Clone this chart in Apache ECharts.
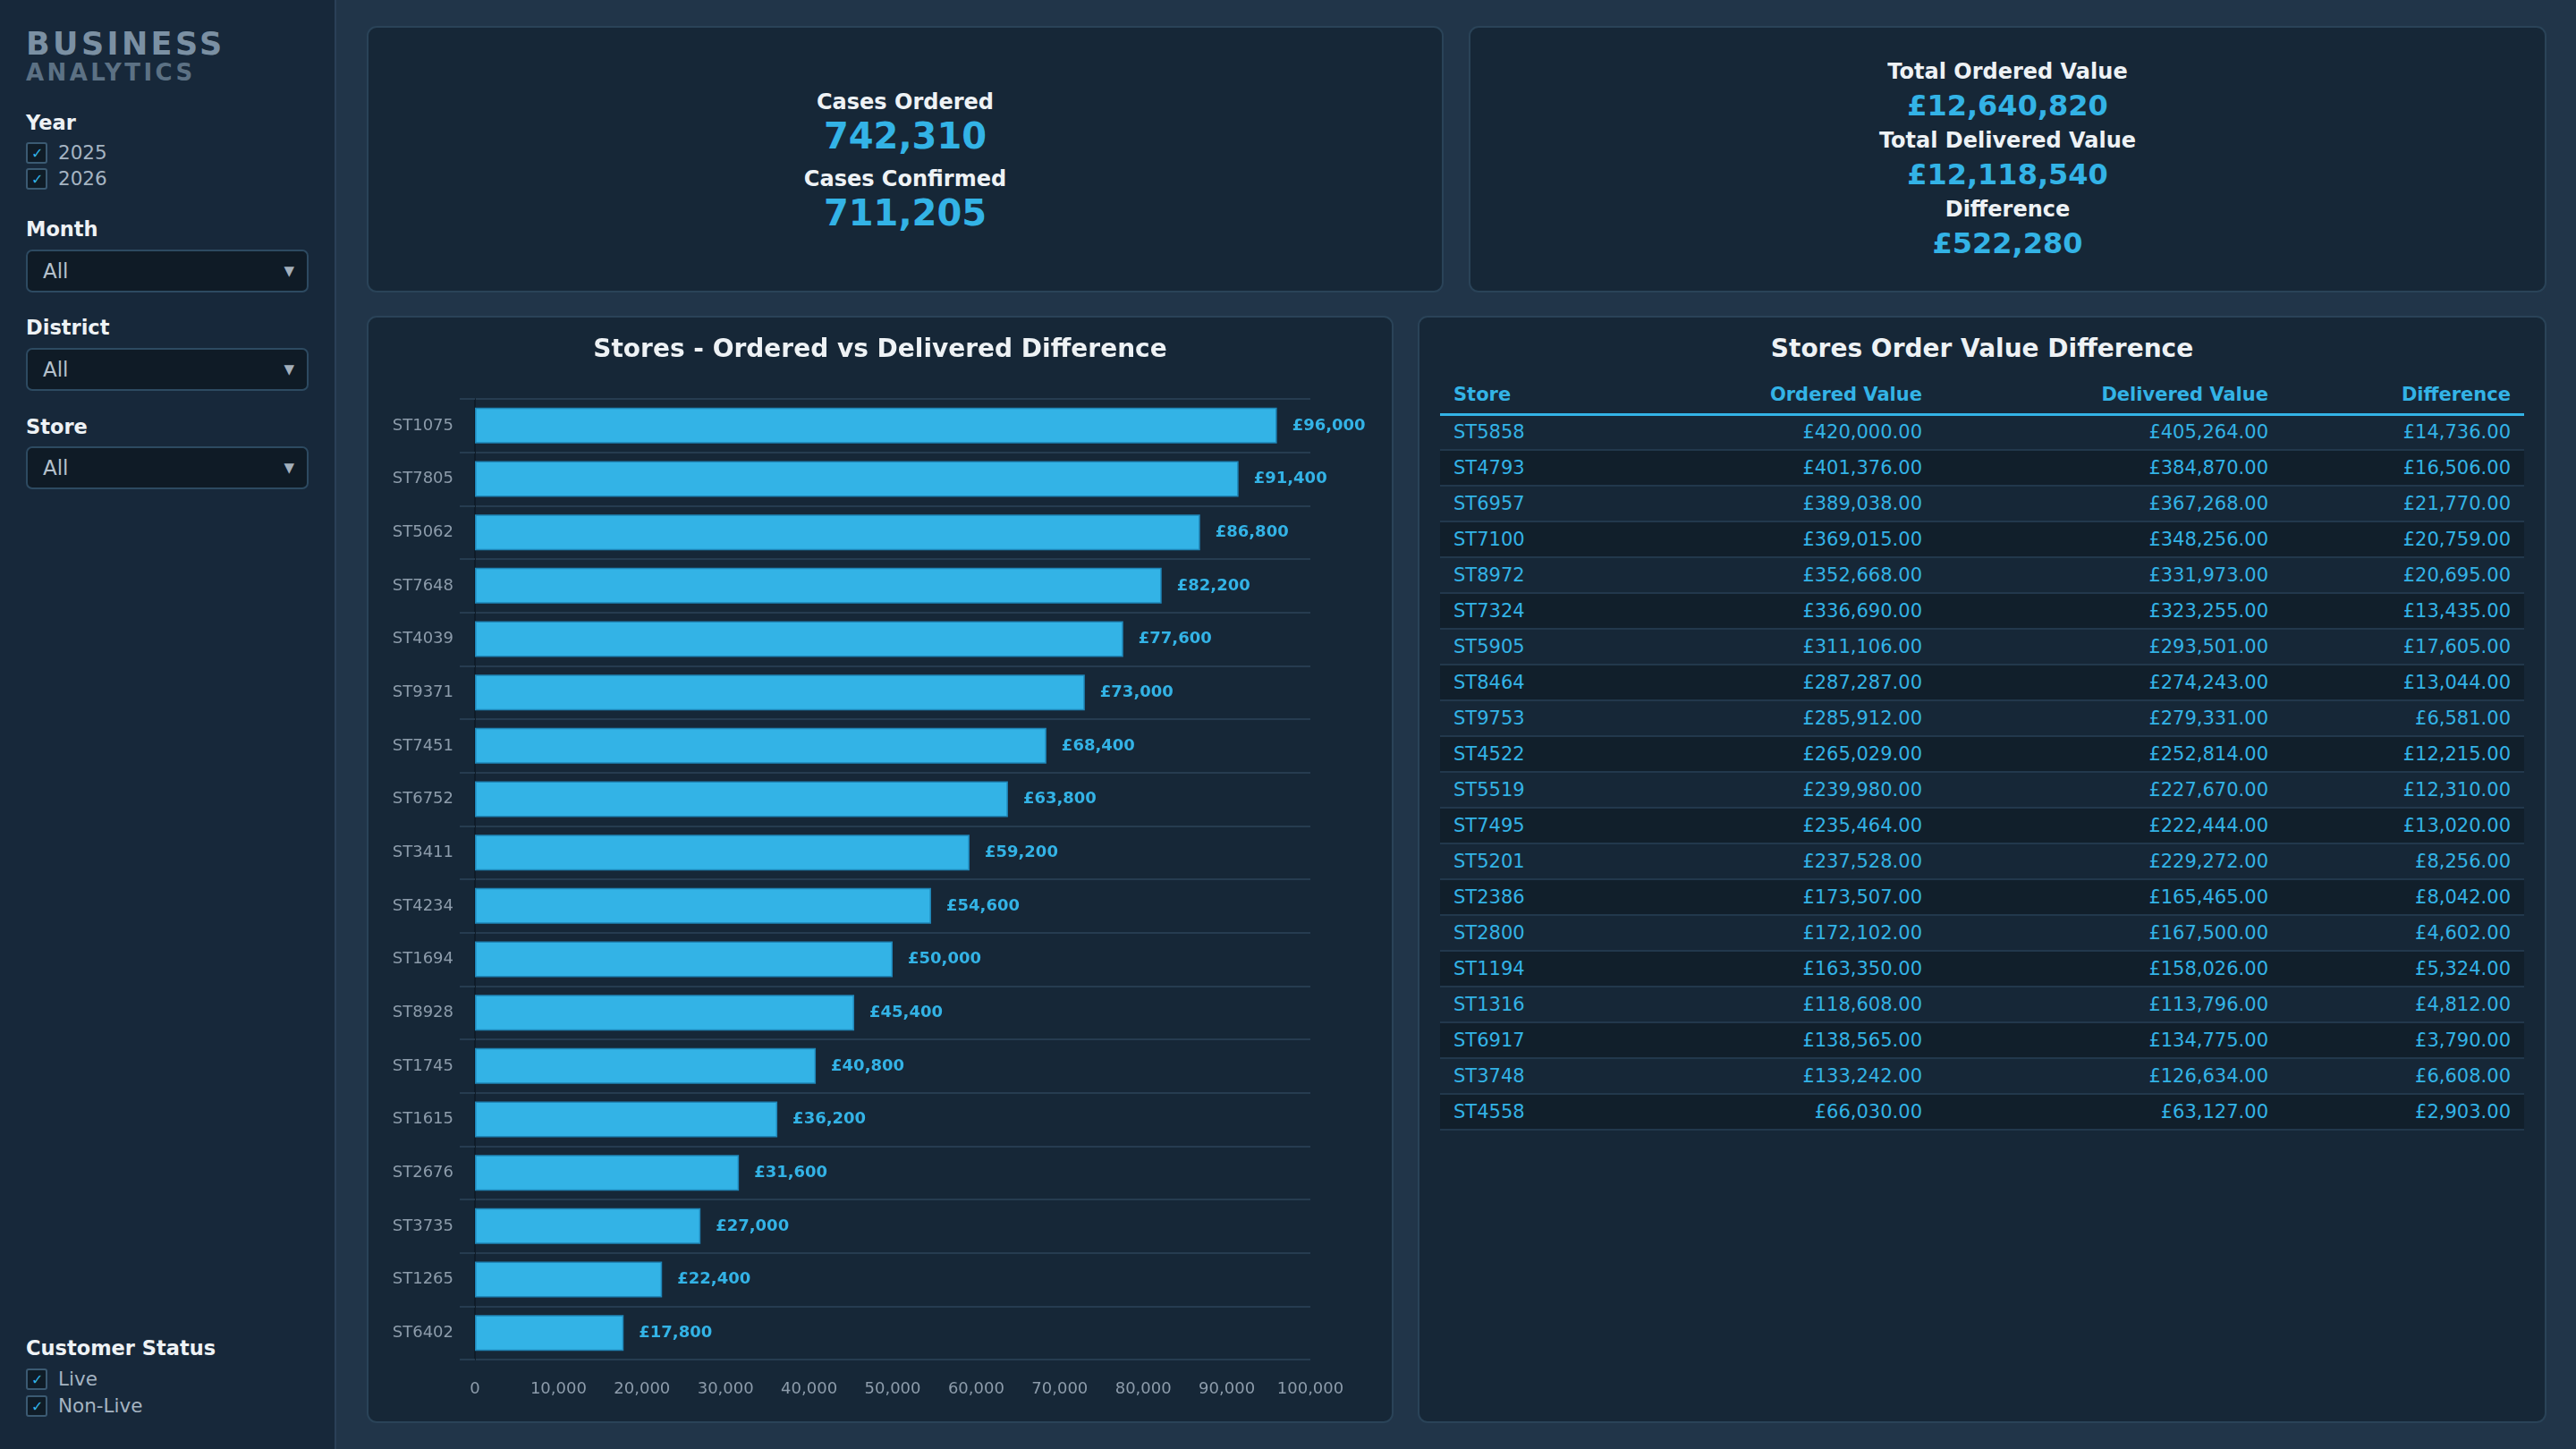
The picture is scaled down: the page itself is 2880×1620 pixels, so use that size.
<!DOCTYPE html>
<html>
<head>
<meta charset="utf-8">
<title>Business Analytics</title>
<script src="https://cdn.jsdelivr.net/npm/echarts@6/dist/echarts.min.js"></script>
<style>
  * { box-sizing: border-box; }
  html, body { margin: 0; padding: 0; }
  body {
    width: 2880px; height: 1620px; overflow: hidden;
    background: #213549;
    font-family: "DejaVu Sans", sans-serif;
    position: relative;
  }
  #sidebar {
    position: absolute; left: 0; top: 0; width: 376px; height: 1620px;
    background: #17283a; border-right: 2px solid #2a4057;
  }
  .brand1 { position: absolute; left: 29px; top: 30px; font-size: 35px; font-weight: bold;
    letter-spacing: 3.4px; color: #7b90a3; line-height: 38px; }
  .brand2 { position: absolute; left: 29px; top: 66px; font-size: 26px; font-weight: bold;
    letter-spacing: 3.4px; color: #5c7184; line-height: 30px; }
  .flabel { position: absolute; left: 29px; font-size: 22.5px; font-weight: bold; color: #eef2f5;
    line-height: 26px; }
  .chk { position: absolute; left: 29px; height: 24px; font-size: 21.5px; color: #a5b4c2; line-height: 24px; }
  .chk .box { display: inline-block; width: 24px; height: 24px; border: 2px solid #3b5a72;
    border-radius: 3px; background: #0f1c27; vertical-align: top; position: relative; margin-right: 12px; }
  .chk .box::after { content: "\2713"; position: absolute; left: 4px; top: -1px; font-size: 16px;
    color: #33b3e6; }
  .sel { position: absolute; left: 29px; width: 316px; height: 48px; border: 2px solid #2d4a61;
    border-radius: 7px; background: #0f1b26; color: #b4c0cb; font-size: 23px; line-height: 44px;
    padding-left: 17px; }
  .sel .arr { position: absolute; right: 14px; top: 0; font-size: 15px; color: #a3b0bc; }
  .card { position: absolute; background: #162737; border: 2px solid #2a4358; border-radius: 11px; }
  .kpi { display: flex; flex-direction: column; align-items: center; justify-content: center; }
  .kl { font-size: 24px; font-weight: bold; color: #eef2f5; }
  .kv { font-weight: bold; color: #33b3e6; }
  #k1 .kl { line-height: 30px; }
  #k1 .kl + .kv + .kl { margin-top: 10px; }
  #k1 .kv { font-size: 40px; line-height: 46px; }
  #k1 { padding-top: 4px; }
  #k2 .kl { line-height: 34px; }
  #k2 .kv { font-size: 32px; line-height: 43px; }
  #chart { position: absolute; left: 0; top: 0; width: 100%; height: 100%; }
  .ttl { position: absolute; left: 0; right: 0; top: 17px; text-align: center; font-size: 28px;
    font-weight: bold; color: #eef2f5; line-height: 36px; }
  table { position: absolute; left: 23px; top: 66px; width: 1212px; border-collapse: collapse;
    table-layout: fixed; font-size: 21px; color: #33b3e6; }
  th { font-weight: bold; height: 42px; border-bottom: 3px solid #33b3e6; padding: 0 15px; }
  td { height: 40px; padding: 0 15px; border-bottom: 2px solid #22384c; }
  tbody tr:nth-child(even) td { background: #111f2b; }
  .l { text-align: left; } .r { text-align: right; }
</style>
</head>
<body>
<div id="sidebar">
  <div class="brand1">BUSINESS</div>
  <div class="brand2">ANALYTICS</div>
  <div class="flabel" style="top:124px">Year</div>
  <div class="chk" style="top:159px"><span class="box"></span>2025</div>
  <div class="chk" style="top:188px"><span class="box"></span>2026</div>
  <div class="flabel" style="top:243px">Month</div>
  <div class="sel" style="top:279px">All<span class="arr">&#9660;</span></div>
  <div class="flabel" style="top:353px">District</div>
  <div class="sel" style="top:389px">All<span class="arr">&#9660;</span></div>
  <div class="flabel" style="top:464px">Store</div>
  <div class="sel" style="top:499px">All<span class="arr">&#9660;</span></div>
  <div class="flabel" style="top:1494px">Customer Status</div>
  <div class="chk" style="top:1530px"><span class="box"></span>Live</div>
  <div class="chk" style="top:1560px"><span class="box"></span>Non-Live</div>
</div>

<div class="card kpi" id="k1" style="left:410px; top:29px; width:1204px; height:298px;"></div>
<div class="card kpi" id="k2" style="left:1642px; top:29px; width:1205px; height:298px;"></div>

<div class="card" style="left:410px; top:353px; width:1148px; height:1238px;">
  <div id="chart"></div>
</div>

<div class="card" style="left:1585px; top:353px; width:1262px; height:1238px;">
  <div class="ttl">Stores Order Value Difference</div>
  <table id="tbl">
    <colgroup><col style="width:200px"><col style="width:354px"><col style="width:387px"><col style="width:271px"></colgroup>
    <thead><tr><th class="l">Store</th><th class="r">Ordered Value</th><th class="r">Delivered Value</th><th class="r">Difference</th></tr></thead>
    <tbody></tbody>
  </table>
</div>

<script type="text/javascript">
// KPI figures
var casesOrdered = 742310;
var casesConfirmed = 711205;
var totalOrdered = 12640820;
var totalDelivered = 12118540;
var totalDifference = 522280;

// bar chart: difference per store
var barStores = ['ST1075', 'ST7805', 'ST5062', 'ST7648', 'ST4039', 'ST9371', 'ST7451', 'ST6752', 'ST3411',
  'ST4234', 'ST1694', 'ST8928', 'ST1745', 'ST1615', 'ST2676', 'ST3735', 'ST1265', 'ST6402'];
var barDiff = [96000, 91400, 86800, 82200, 77600, 73000, 68400, 63800, 59200,
  54600, 50000, 45400, 40800, 36200, 31600, 27000, 22400, 17800];
var xTicks = { min: 0, max: 100000, step: 10000 };

// table
var tblStores = ['ST5858', 'ST4793', 'ST6957', 'ST7100', 'ST8972', 'ST7324', 'ST5905', 'ST8464', 'ST9753', 'ST4522',
  'ST5519', 'ST7495', 'ST5201', 'ST2386', 'ST2800', 'ST1194', 'ST1316', 'ST6917', 'ST3748', 'ST4558'];
var tblOrdered = [420000, 401376, 389038, 369015, 352668, 336690, 311106, 287287, 285912, 265029,
  239980, 235464, 237528, 173507, 172102, 163350, 118608, 138565, 133242, 66030];
var tblDelivered = [405264, 384870, 367268, 348256, 331973, 323255, 293501, 274243, 279331, 252814,
  227670, 222444, 229272, 165465, 167500, 158026, 113796, 134775, 126634, 63127];
var tblDiff = [14736, 16506, 21770, 20759, 20695, 13435, 17605, 13044, 6581, 12215,
  12310, 13020, 8256, 8042, 4602, 5324, 4812, 3790, 6608, 2903];

function fmt(v) { return v.toLocaleString('en-GB'); }
function money2(v) { return '£' + v.toLocaleString('en-GB', { minimumFractionDigits: 2, maximumFractionDigits: 2 }); }

function kpiBlock(id, items) {
  var el = document.getElementById(id);
  items.forEach(function (it) {
    var a = document.createElement('div'); a.className = 'kl'; a.textContent = it[0]; el.appendChild(a);
    var b = document.createElement('div'); b.className = 'kv'; b.textContent = it[1]; el.appendChild(b);
  });
}
kpiBlock('k1', [['Cases Ordered', fmt(casesOrdered)], ['Cases Confirmed', fmt(casesConfirmed)]]);
kpiBlock('k2', [['Total Ordered Value', '£' + fmt(totalOrdered)], ['Total Delivered Value', '£' + fmt(totalDelivered)],
  ['Difference', '£' + fmt(totalDifference)]]);

var tbody = document.querySelector('#tbl tbody');
tblStores.forEach(function (s, i) {
  var tr = document.createElement('tr');
  tr.innerHTML = '<td class="l">' + s + '</td><td class="r">' + money2(tblOrdered[i]) + '</td><td class="r">' +
    money2(tblDelivered[i]) + '</td><td class="r">' + money2(tblDiff[i]) + '</td>';
  tbody.appendChild(tr);
});

var font = 'DejaVu Sans';
var myChart = echarts.init(document.getElementById('chart'));
myChart.setOption({
  animation: false,
  backgroundColor: 'transparent',
  title: {
    text: 'Stores - Ordered vs Delivered Difference',
    left: 'center', top: 23, padding: 0,
    textStyle: { color: '#eef2f5', fontSize: 28, fontWeight: 'bold', fontFamily: font }
  },
  grid: { left: 119, right: 91, top: 91, bottom: 69 },
  xAxis: {
    type: 'value', min: xTicks.min, max: xTicks.max, interval: xTicks.step,
    axisLine: { show: false }, axisTick: { show: false }, splitLine: { show: false },
    axisLabel: { color: '#8d9cab', fontSize: 18, fontFamily: font, margin: 24,
      formatter: function (v) { return fmt(v); } }
  },
  yAxis: {
    type: 'category', data: barStores, inverse: true,
    axisLine: { show: true, lineStyle: { color: '#0f1c28', width: 2 } },
    axisTick: { show: true, length: 17, lineStyle: { color: '#263c50', width: 2 } },
    splitLine: { show: true, lineStyle: { color: '#263c50', width: 2 } },
    axisLabel: { color: '#8d9cab', fontSize: 18, fontFamily: font, margin: 24 }
  },
  series: [{
    type: 'bar', data: barDiff, barWidth: 40,
    itemStyle: { color: '#33b3e6', borderColor: '#1f86b8', borderWidth: 1.5 },
    label: {
      show: true, position: 'right', distance: 17, color: '#33b3e6', fontSize: 18,
      fontWeight: 'bold', fontFamily: font,
      formatter: function (p) { return '£' + fmt(p.value); }
    }
  }]
});
</script>
</body>
</html>
